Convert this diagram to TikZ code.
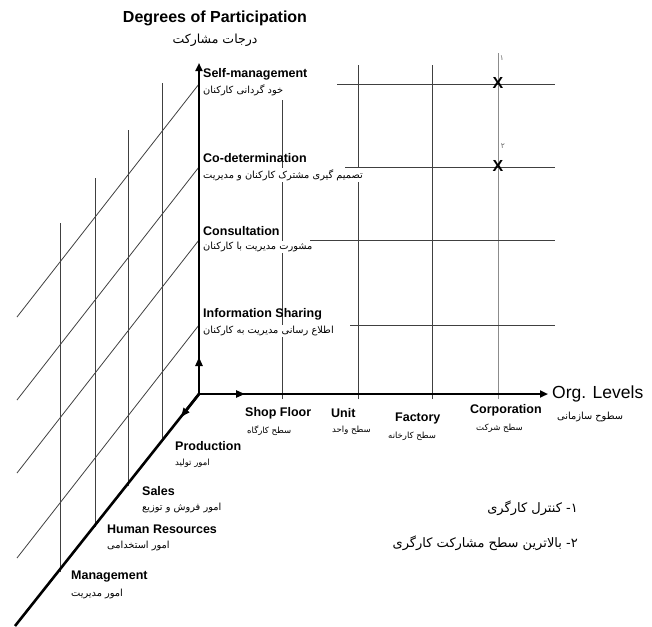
\documentclass[tikz,border=0pt]{standalone}
\usepackage{fontspec}
\setmainfont{Liberation Sans}
\newfontfamily\farsifont[Script=Arabic]{DejaVu Sans}
\TeXXeTstate=1
\usetikzlibrary{arrows.meta}
\newcommand{\fatext}[1]{{\farsifont\beginR #1\endR}}

\begin{document}
\begin{tikzpicture}[x=1pt,y=-1pt,
	axis/.style={line width=2.6pt,-{Triangle[length=8pt,width=7pt]}},
	midarrow/.style={line width=2.6pt,-{Triangle[length=9pt,width=7pt]}},
	gridline/.style={black!75,line width=0.8pt},
	lbl/.style={anchor=west,inner sep=0pt,font=\fontsize{12.5}{14}\selectfont\bfseries},
	fa/.style={anchor=west,inner sep=1pt,fill=white,font=\fontsize{9.8}{11}\selectfont},
	fasmall/.style={fa,font=\fontsize{8.5}{10}\selectfont}]
	\useasboundingbox (0,0) rectangle (652,626);
	\coordinate (O) at (199,394);

	% lines parallel to the diagonal axis
	\draw[gridline] (199,84) -- (17,317);
	\draw[gridline] (199,167) -- (17,400);
	\draw[gridline] (199,240) -- (17,473);
	\draw[gridline] (199,325) -- (17,558);

	% verticals from the diagonal axis
	\draw[gridline] (162,441) -- (162,83);
	\draw[gridline] (128,486) -- (128,130);
	\draw[gridline] (95,527) -- (95,178);
	\draw[gridline] (60,572) -- (60,223);

	% verticals from the org. levels
	\draw[gridline] (282,399) -- (282,100);
	\draw[gridline] (358,399) -- (358,65);
	\draw[gridline] (432,399) -- (432,65);
	\draw[gridline,black!45] (498,399) -- (498,53);

	% horizontals from the degrees
	\draw[gridline] (337,84) -- (555,84);
	\draw[gridline] (345,167) -- (555,167);
	\draw[gridline] (310,240) -- (555,240);
	\draw[gridline] (350,325) -- (555,325);

	% axes
	\draw[axis] (O) -- (199,63);
	\draw[axis] (O) -- (548,394);
	\draw[line width=2.6pt] (O) -- (15,626);
	\draw[midarrow] (O) -- (199,357);
	\draw[midarrow] (O) -- (245,394);
	\draw[midarrow] (O) -- (181,417);

	% title
	\node[font=\fontsize{16}{18}\selectfont\bfseries] (title) at (215,18) {Degrees of Participation};
	\node[font=\fontsize{12.5}{14}\selectfont] (titlefa) at (215,40) {\fatext{درجات مشارکت}};

	% degrees of participation
	\node[lbl] (selfman) at (203,74) {Self-management};
	\node[fa] (selfmanfa) at (202,90) {\fatext{خود گردانی کارکنان}};
	\node[lbl] (codet) at (203,158) {Co-determination};
	\node[fa] (codetfa) at (202,175) {\fatext{تصمیم گیری مشترک کارکنان و مدیریت}};
	\node[lbl] (consult) at (203,231) {Consultation};
	\node[fa] (consultfa) at (202,247) {\fatext{مشورت مدیریت با کارکنان}};
	\node[lbl] (infoshare) at (203,314) {Information Sharing};
	\node[fa] (infosharefa) at (202,331) {\fatext{اطلاع رسانی مدیریت به کارکنان}};

	% org. levels
	\node[lbl] (shop) at (245,413) {Shop Floor};
	\node[fasmall] (shopfa) at (246,431) {\fatext{سطح کارگاه}};
	\node[lbl] (unit) at (331,413) {Unit};
	\node[fasmall] (unitfa) at (331,430) {\fatext{سطح واحد}};
	\node[lbl] (factory) at (395,418) {Factory};
	\node[fasmall] (factoryfa) at (387,436) {\fatext{سطح کارخانه}};
	\node[lbl] (corp) at (470,410) {Corporation};
	\node[fasmall] (corpfa) at (475,428) {\fatext{سطح شرکت}};
	\node[anchor=west,inner sep=0pt,font=\fontsize{17.5}{19}\selectfont] (orglev) at (552,394) {Org. Levels};
	\node[anchor=west,inner sep=0pt,font=\fontsize{9.8}{12}\selectfont] (orglevfa) at (557,417) {\fatext{سطوح سازمانی}};

	% functions
	\node[lbl] (prod) at (175,446) {Production};
	\node[fasmall] (prodfa) at (174,463) {\fatext{امور تولید}};
	\node[lbl] (sales) at (142,491) {Sales};
	\node[fa] (salesfa) at (141,508) {\fatext{امور فروش و توزیع}};
	\node[lbl] (hr) at (107,529) {Human Resources};
	\node[fa] (hrfa) at (106,546) {\fatext{امور استخدامی}};
	\node[lbl] (manage) at (71,577) {Management};
	\node[fa] (managefa) at (70,594) {\fatext{امور مدیریت}};

	% marks
	\node[font=\fontsize{16}{16}\selectfont\bfseries] (markone) at (498,83) {X};
	\node[font=\fontsize{16}{16}\selectfont\bfseries] (marktwo) at (498,166) {X};
	\node[black!60,font=\fontsize{7.5}{8}\selectfont] (numone) at (502,58) {\fatext{۱}};
	\node[black!60,font=\fontsize{7.5}{8}\selectfont] (numtwo) at (503,146) {\fatext{۲}};

	% notes
	\node[anchor=east,inner sep=0pt,font=\fontsize{13}{15}\selectfont] (noteone) at (578,508) {\fatext{۱- کنترل کارگری}};
	\node[anchor=east,inner sep=0pt,font=\fontsize{13}{15}\selectfont] (notetwo) at (578,543) {\fatext{۲- بالاترین سطح مشارکت کارگری}};
\end{tikzpicture}
\end{document}
